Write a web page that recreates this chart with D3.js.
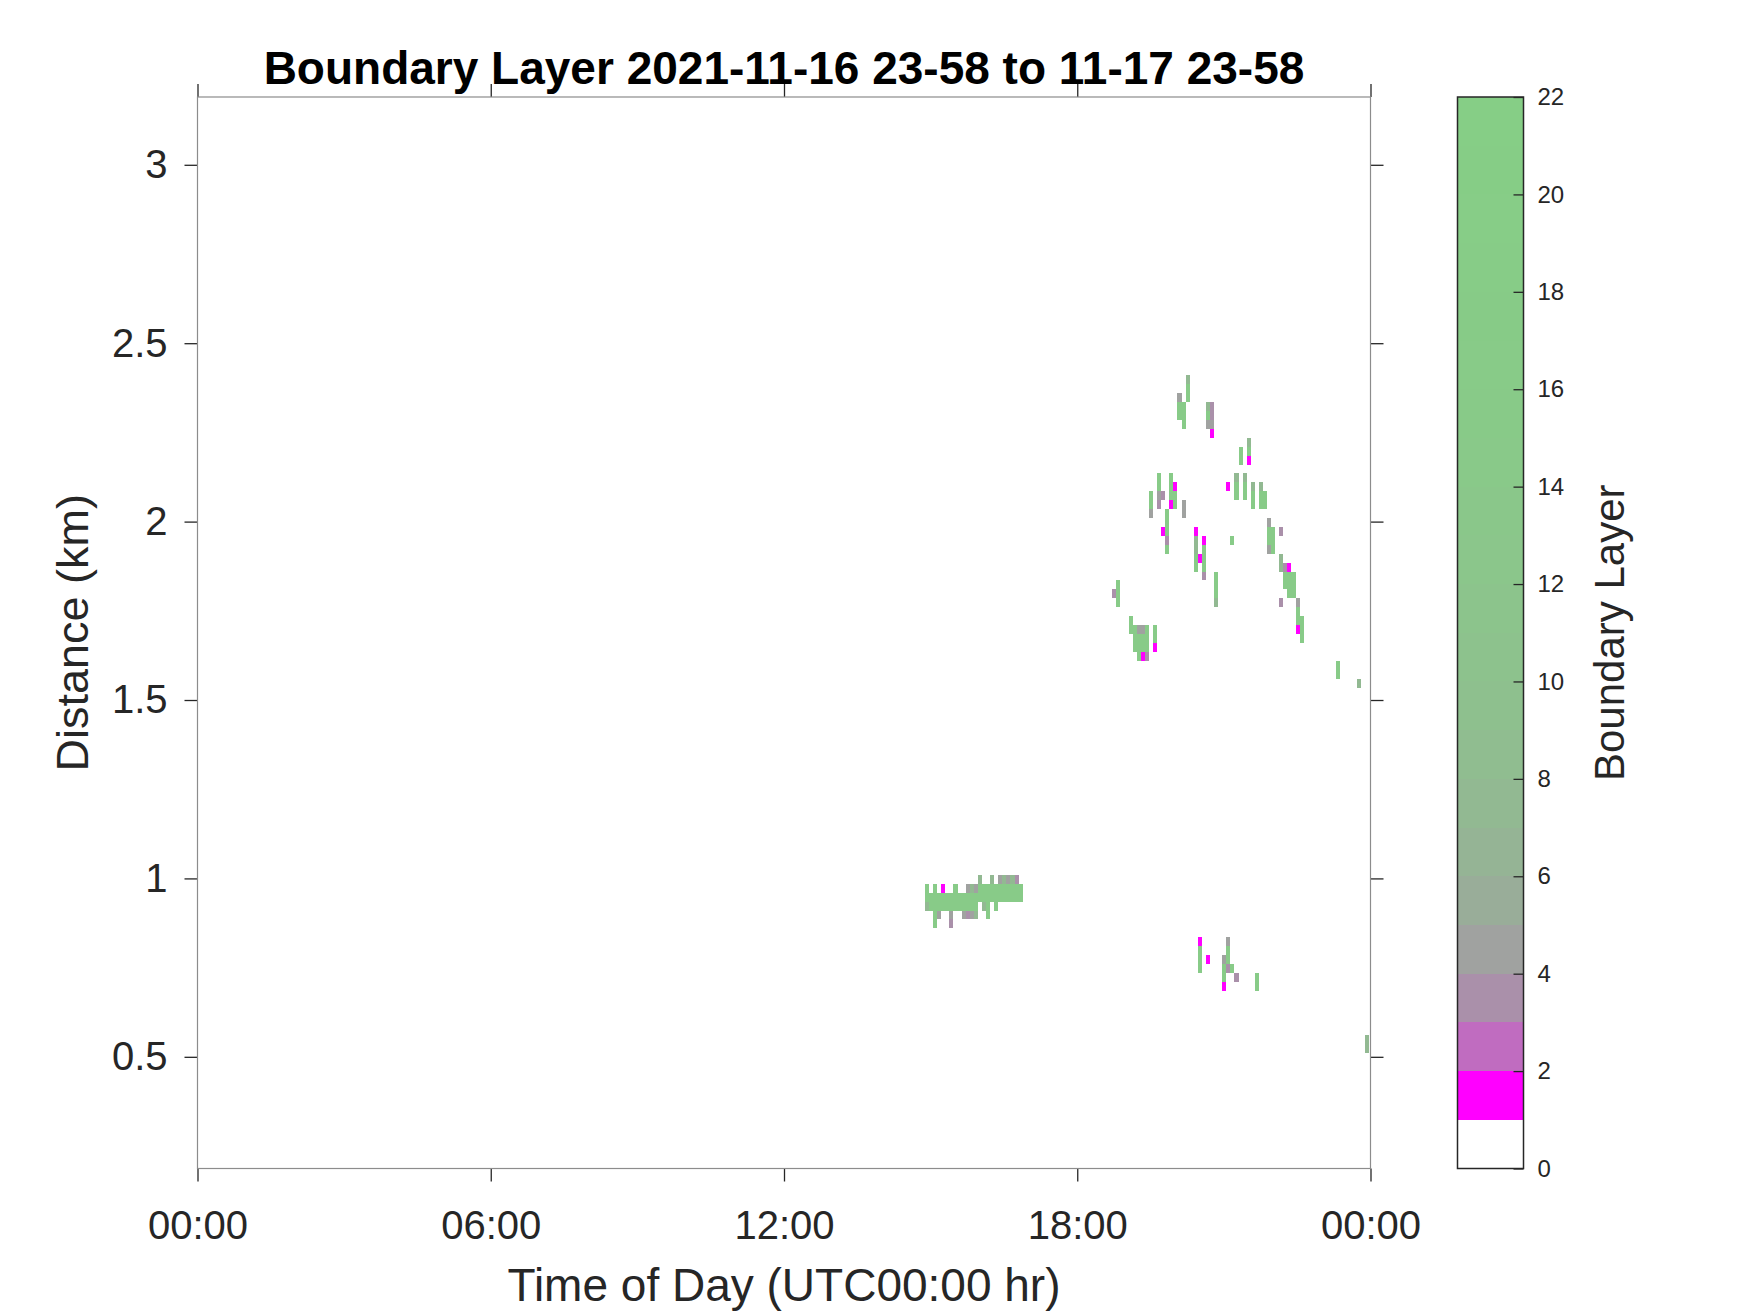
<!DOCTYPE html>
<html>
<head>
<meta charset="utf-8">
<script src="https://cdn.jsdelivr.net/npm/d3@7"></script>
<style>
  body { margin: 0; background: #fff; }
  text { font-family: "Liberation Sans", Arial, sans-serif; fill: #262626; }
</style>
</head>
<body>
<script>
// tick labels
var timeTicks = [0, 6, 12, 18, 24];
var timeTickLabels = ['00:00', '06:00', '12:00', '18:00', '00:00'];
var distTicks = [0.5, 1, 1.5, 2, 2.5, 3];
var distTickLabels = ['0.5', '1', '1.5', '2', '2.5', '3'];
var cbarTicks = [0, 2, 4, 6, 8, 10, 12, 14, 16, 18, 20, 22];

// 5 minute bins, 25 m range gates
var binMinutes = 5;
var gateKm = 0.025;

// [bin start (UTC), lowest gate bottom (km), values upward from that gate]
var cells = [
  ['14:53', 0.91, [7, 16, 16]],
  ['14:58', 0.91, [16, 16]],
  ['15:03', 0.86, [16, 16, 16, 16, 16]],
  ['15:08', 0.885, [4, 16, 16]],
  ['15:13', 0.91, [16, 16, 1]],
  ['15:18', 0.91, [16, 16]],
  ['15:23', 0.86, [3, 4, 16, 16]],
  ['15:28', 0.91, [16, 16, 16]],
  ['15:33', 0.91, [16, 16]],
  ['15:38', 0.885, [4, 16, 16]],
  ['15:43', 0.885, [3, 16, 16, 4]],
  ['15:48', 0.885, [4, 16, 16, 7]],
  ['15:53', 0.885, [7, 16, 16, 4]],
  ['15:58', 0.935, [16, 16, 7]],
  ['16:03', 0.91, [7, 16, 16]],
  ['16:08', 0.885, [16, 16, 16, 16]],
  ['16:13', 0.935, [16, 16, 7]],
  ['16:18', 0.91, [16, 16, 16]],
  ['16:23', 0.935, [16, 16, 4]],
  ['16:28', 0.935, [16, 16, 7]],
  ['16:33', 0.935, [16, 16, 4]],
  ['16:38', 0.935, [16, 16, 7]],
  ['16:43', 0.935, [16, 16, 3]],
  ['16:48', 0.935, [16, 16]],
  ['18:43', 1.785, [3]],
  ['18:48', 1.76, [16, 16, 16]],
  ['19:03', 1.685, [16, 16]],
  ['19:08', 1.635, [16, 16, 16]],
  ['19:13', 1.61, [16, 16, 16, 4]],
  ['19:18', 1.61, [1, 16, 16, 4]],
  ['19:23', 1.61, [3, 16, 16, 16]],
  ['19:28', 2.01, [4, 16, 16]],
  ['19:33', 1.635, [1, 16, 16]],
  ['19:38', 2.035, [3, 4, 16, 16]],
  ['19:43', 1.96, [1, 0, 0, 0, 3]],
  ['19:48', 1.91, [16, 3, 16, 16, 16]],
  ['19:53', 2.035, [1, 16, 16, 16]],
  ['19:58', 2.035, [16, 16, 1]],
  ['20:03', 2.285, [16, 16, 4]],
  ['20:08', 2.01, [4, 4]],
  ['20:08', 2.26, [16, 16, 16]],
  ['20:13', 2.335, [16, 16, 7]],
  ['20:23', 1.86, [16, 16, 7, 7, 1]],
  ['20:28', 1.885, [1]],
  ['20:28', 0.735, [16, 16, 16, 1]],
  ['20:33', 1.835, [3, 16, 16, 16, 1]],
  ['20:38', 2.26, [4, 16, 7]],
  ['20:38', 0.76, [1]],
  ['20:43', 2.235, [1, 4, 3, 3]],
  ['20:48', 1.76, [7, 16, 16, 16]],
  ['20:58', 0.685, [1, 16, 16, 4]],
  ['21:03', 2.085, [1]],
  ['21:03', 0.735, [3, 16, 16, 4]],
  ['21:08', 1.935, [16]],
  ['21:08', 0.735, [16]],
  ['21:13', 2.06, [16, 16, 7]],
  ['21:13', 0.71, [3]],
  ['21:18', 2.16, [16, 16]],
  ['21:23', 2.06, [16, 16, 7]],
  ['21:28', 2.16, [1, 16, 7]],
  ['21:33', 2.035, [16, 16, 7]],
  ['21:38', 0.685, [16, 16]],
  ['21:43', 2.035, [16, 16, 7]],
  ['21:48', 2.035, [16, 16]],
  ['21:53', 1.91, [4, 16, 16, 4]],
  ['21:58', 1.91, [16, 16, 16]],
  ['22:08', 1.76, [3, 0, 0, 0, 7, 7, 0, 0, 3]],
  ['22:13', 1.81, [16, 16, 3]],
  ['22:18', 1.785, [16, 16, 16, 1]],
  ['22:23', 1.785, [16, 16, 16]],
  ['22:28', 1.685, [1, 16, 16, 4]],
  ['22:33', 1.66, [16, 16, 16]],
  ['23:18', 1.56, [16, 16]],
  ['23:43', 1.535, [7]],
  ['23:53', 0.51, [7, 7]]
];

// graph dimensions
var W = 1750, H = 1313;
var plot = {left: 197.5, right: 1370.5, top: 97, bottom: 1168.5};
var cbar = {left: 1457.5, right: 1523.5};

// colour map: white, then magenta fading to green, one step per unit
var magenta = d3.rgb(255, 0, 255), green = d3.rgb(128, 216, 128);
function levelColor(level) {
  if (level < 1) return '#ffffff';
  return d3.interpolateRgb(magenta, green)(1 - 1 / level);
}

var x = d3.scaleLinear().domain([0, 24]).range([plot.left, plot.right]);
var y = d3.scaleLinear().domain([0.187, 3.19]).range([plot.bottom, plot.top]);
var yc = d3.scaleLinear().domain([0, 22]).range([plot.bottom, plot.top]);

var svg = d3.select('body').append('svg')
    .attr('width', W)
    .attr('height', H);

svg.append('rect').attr('width', W).attr('height', H).attr('fill', '#fff');

// flatten the columns into cells
var flat = [];
cells.forEach(function(c) {
  var p = c[0].split(':');
  var h = +p[0] + (+p[1]) / 60;
  c[2].forEach(function(v, i) {
    if (v > 0) flat.push({t: h, d: c[1] + i * gateKm, v: v});
  });
});

svg.append('g')
  .selectAll('rect')
  .data(flat)
  .enter().append('rect')
    .attr('shape-rendering', 'crispEdges')
    .attr('x', function(d) { return x(d.t); })
    .attr('width', function(d) { return x(d.t + binMinutes / 60) - x(d.t); })
    .attr('y', function(d) { return y(d.d + gateKm); })
    .attr('height', function(d) { return y(d.d) - y(d.d + gateKm); })
    .attr('fill', function(d) { return levelColor(Math.floor(d.v)); });

// axes
var xAxis = d3.axisBottom(x).tickValues(timeTicks)
    .tickFormat(function(d, i) { return timeTickLabels[i]; })
    .tickSize(13).tickPadding(29);
var xTop = d3.axisTop(x).tickValues(timeTicks).tickFormat('').tickSize(13);
var yAxis = d3.axisLeft(y).tickValues(distTicks)
    .tickFormat(function(d, i) { return distTickLabels[i]; })
    .tickSize(13).tickPadding(17);
var yRight = d3.axisRight(y).tickValues(distTicks).tickFormat('').tickSize(13);

function styleAxis(g) {
  g.select('.domain').remove();
  g.selectAll('line').attr('stroke', '#262626').attr('stroke-width', 1.3);
  g.selectAll('text').style('font-size', '40px').style('fill', '#262626')
    .style('font-family', '"Liberation Sans", Arial, sans-serif');
}

svg.append('g').attr('transform', 'translate(0,' + plot.bottom + ')').call(xAxis).call(styleAxis);
svg.append('g').attr('transform', 'translate(0,' + plot.top + ')').call(xTop).call(styleAxis);
svg.append('g').attr('transform', 'translate(' + plot.left + ',0)').call(yAxis).call(styleAxis);
svg.append('g').attr('transform', 'translate(' + plot.right + ',0)').call(yRight).call(styleAxis);

// plot box
svg.append('rect')
  .attr('x', plot.left).attr('y', plot.top)
  .attr('width', plot.right - plot.left).attr('height', plot.bottom - plot.top)
  .attr('fill', 'none').attr('stroke', '#8c8c8c').attr('stroke-width', 1.2);

// axis titles
svg.append('text')
  .attr('text-anchor', 'middle')
  .attr('x', (plot.left + plot.right) / 2).attr('y', 84)
  .style('font-size', '46px').style('font-weight', 'bold').style('fill', '#000')
  .text('Boundary Layer 2021-11-16 23-58 to 11-17 23-58');

svg.append('text')
  .attr('text-anchor', 'middle')
  .attr('x', (plot.left + plot.right) / 2).attr('y', 1301)
  .style('font-size', '46px')
  .text('Time of Day (UTC00:00 hr)');

svg.append('text')
  .attr('text-anchor', 'middle')
  .attr('transform', 'translate(88,' + ((plot.top + plot.bottom) / 2) + ')rotate(-90)')
  .style('font-size', '45px')
  .text('Distance (km)');

// colour bar
var levels = d3.range(0, 22);
svg.append('g')
  .selectAll('rect')
  .data(levels)
  .enter().append('rect')
    .attr('shape-rendering', 'crispEdges')
    .attr('x', cbar.left)
    .attr('width', cbar.right - cbar.left)
    .attr('y', function(d) { return yc(d + 1); })
    .attr('height', function(d) { return yc(d) - yc(d + 1); })
    .attr('fill', function(d) { return levelColor(d); });

var cAxis = d3.axisRight(yc).tickValues(cbarTicks).tickFormat(d3.format('d'))
    .tickSizeInner(-10).tickSizeOuter(0).tickPadding(14);
svg.append('g').attr('transform', 'translate(' + cbar.right + ',0)').call(cAxis)
  .call(function(g) {
    g.select('.domain').remove();
    g.selectAll('line').attr('stroke', '#262626').attr('stroke-width', 1.3);
    g.selectAll('text').style('font-size', '24px').style('fill', '#262626')
      .style('font-family', '"Liberation Sans", Arial, sans-serif');
  });

svg.append('rect')
  .attr('x', cbar.left).attr('y', plot.top)
  .attr('width', cbar.right - cbar.left).attr('height', plot.bottom - plot.top)
  .attr('fill', 'none').attr('stroke', '#262626').attr('stroke-width', 1.5);

svg.append('text')
  .attr('text-anchor', 'middle')
  .attr('transform', 'translate(1624,' + ((plot.top + plot.bottom) / 2) + ')rotate(-90)')
  .style('font-size', '42px')
  .text('Boundary Layer');
</script>
</body>
</html>
